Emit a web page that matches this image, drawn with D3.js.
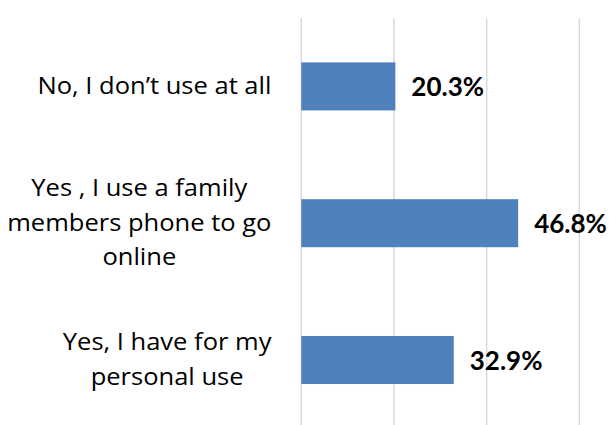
<!DOCTYPE html>
<html>
<head>
<meta charset="utf-8">
<script src="https://cdn.jsdelivr.net/npm/d3@7"></script>
<style>
  html, body { margin: 0; padding: 0; background: #ffffff; }
  svg { display: block; }
</style>
</head>
<body>
<svg id="chart" width="614" height="425"></svg>
<script>
// Survey answers, top to bottom, with each label's wrapped lines
const categories = [
  "No, I don’t use at all",
  "Yes , I use a family members phone to go online",
  "Yes, I have for my personal use"
];
const categoryLines = [
  ["No, I don’t use at all"],
  ["Yes , I use a family", "members phone to go", "online"],
  ["Yes, I have for my", "personal use"]
];
const values = [20.3, 46.8, 32.9];
const gridTicks = [0, 20, 40, 60];

const width = 614, height = 425;
const svg = d3.select("#chart");

const x = d3.scaleLinear().domain([0, 60]).range([301.3, 579.3]);
const y = d3.scaleBand()
  .domain(categories)
  .range([18, 428.4])
  .paddingInner(0.649)
  .paddingOuter(0.3245);

// vertical gridlines
svg.append("g")
  .selectAll("line")
  .data(gridTicks)
  .join("line")
  .attr("x1", d => x(d))
  .attr("x2", d => x(d))
  .attr("y1", 18.5)
  .attr("y2", height)
  .attr("stroke", "#d9d9d9")
  .attr("stroke-width", 1.5);

// bars
svg.append("g")
  .selectAll("rect")
  .data(values)
  .join("rect")
  .attr("x", x(0))
  .attr("y", (d, i) => y(categories[i]))
  .attr("width", d => x(d) - x(0))
  .attr("height", y.bandwidth())
  .attr("fill", "#4f81bd");

// value labels
svg.append("g")
  .selectAll("text")
  .data(values)
  .join("text")
  .attr("x", d => x(d) + 16)
  .attr("y", (d, i) => y(categories[i]) + y.bandwidth() / 2)
  .attr("dy", "0.38em")
  .attr("font-family", "Lato, 'Open Sans', sans-serif")
  .attr("font-weight", "bold")
  .attr("font-size", 26)
  .attr("fill", "#000")
  .text(d => d.toFixed(1) + "%");

// category labels: lines centred within a block that is right-aligned to the axis;
// the face is widened slightly to get the broad proportions of the label font
const labelFont = "'Open Sans', sans-serif";
const labelSize = 23;
const stretch = 1.11;
const lineHeight = 34.5;
const blockRight = 271.5;
const labels = svg.append("g")
  .attr("font-family", labelFont)
  .attr("font-size", labelSize)
  .attr("fill", "#000");

categories.forEach((cat, i) => {
  const lines = categoryLines[i];
  const cy = y(cat) + y.bandwidth() / 2;
  const texts = labels.append("g").selectAll("text")
    .data(lines)
    .join("text")
    .attr("dy", "0.32em")
    .attr("text-anchor", "middle")
    .text(d => d);
  const blockW = d3.max(texts.nodes(), n => n.getComputedTextLength()) * stretch;
  const cx = blockRight - blockW / 2;
  texts.attr("transform", (d, j) =>
    `translate(${cx},${cy + (j - (lines.length - 1) / 2) * lineHeight}) scale(${stretch},1)`);
});
</script>
</body>
</html>
